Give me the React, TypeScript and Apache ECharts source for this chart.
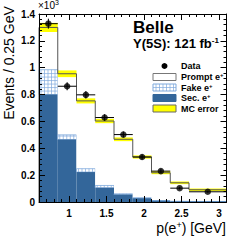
import React, { useEffect, useRef } from "react";
import * as echarts from "echarts";

const binEdges = [0.6, 0.85, 1.1, 1.35, 1.6, 1.85, 2.1, 2.35, 2.6, 3.1];
const secE = [0.8, 0.465, 0.223, 0.106, 0.055, 0.028, 0.009, 0.004, 0.003];
const fakeE = [0.185, 0.035, 0.025, 0.017, 0.006, 0.003, 0.002, 0.001, 0.001];
const mcTotal = [1.3, 0.955, 0.753, 0.603, 0.467, 0.335, 0.218, 0.143, 0.091];
const mcErr = [0.034, 0.025, 0.019, 0.016, 0.014, 0.012, 0.011, 0.01, 0.009];
const dataX = [0.725, 0.975, 1.225, 1.475, 1.725, 1.975, 2.225, 2.475, 2.85];
const dataY = [1.328, 0.862, 0.798, 0.629, 0.502, 0.335, 0.23, 0.103, 0.076];
const dataErr = [0.037, 0.03, 0.028, 0.025, 0.022, 0.018, 0.015, 0.01, 0.007];
const xLabels = [1, 1.5, 2, 2.5, 3];
const xMinor = [0.7, 0.8, 0.9, 1.1, 1.2, 1.3, 1.4, 1.6, 1.7, 1.8, 1.9, 2.1, 2.2, 2.3, 2.4, 2.6, 2.7, 2.8, 2.9];
const legendLabels = ["Data", "Prompt e", "Fake e", "Sec. e", "MC error"];

const FONT = "Liberation Sans, Arial, Helvetica, sans-serif";
const SEC = "#33669a";
const HATCH = "#7fa9dc";

export default function App() {
  const ref = useRef<HTMLDivElement>(null);
  useEffect(() => {
    if (!ref.current) return;
    const chart = echarts.init(ref.current, undefined, { renderer: "svg" });
    const nb = binEdges.length - 1;
    const stackData = [];
    for (let i = 0; i < nb; i++) {
      stackData.push([binEdges[i], binEdges[i + 1], secE[i], fakeE[i], mcTotal[i], i > 0 ? mcTotal[i - 1] : 0, mcErr[i]]);
    }
    const dataPts = dataX.map((x, i) => [x, dataY[i], binEdges[i], binEdges[i + 1], dataErr[i]]);

    const xBase = { type: "value", min: 0.6, max: 3.1, z: 10, splitLine: { show: false } };
    const yBase = { type: "value", min: 0, max: 1.4, interval: 0.2, z: 10, splitLine: { show: false } };
    const line = { show: true, lineStyle: { color: "#000", width: 1 } };

    const supTxt = (parts: string[], size: number, weight: string) => ({
      text: parts.map((p, k) => (k % 2 === 0 ? `{a|${p}}` : `{s|${p}}`)).join(""),
      rich: {
        a: { fontSize: size, fontFamily: FONT, fontWeight: weight, fill: "#000" },
        s: { fontSize: Math.round(size * 0.65), fontFamily: FONT, fontWeight: weight, fill: "#000", padding: [0, 0, Math.round(size * 0.45), 0] },
      },
    });

    const legendY = [66, 77, 87.5, 98, 108.5];
    const legendGraphics: any[] = [];
    legendGraphics.push({ type: "circle", shape: { cx: 164.5, cy: legendY[0], r: 3 }, style: { fill: "#000" } });
    legendGraphics.push({ type: "rect", shape: { x: 153, y: legendY[1] - 3.5, width: 23, height: 7 }, style: { fill: "#fff", stroke: "#777", lineWidth: 1 } });
    legendGraphics.push({ type: "rect", shape: { x: 153, y: legendY[2] - 3.5, width: 23, height: 7 }, style: { fill: "#fff", stroke: HATCH, lineWidth: 1 } });
    for (let k = 0; k < 6; k++) {
      legendGraphics.push({ type: "line", shape: { x1: 156 + k * 3.5, y1: legendY[2] - 3.5, x2: 156 + k * 3.5, y2: legendY[2] + 3.5 }, style: { stroke: HATCH, lineWidth: 0.7 } });
    }
    legendGraphics.push({ type: "line", shape: { x1: 153, y1: legendY[2], x2: 176, y2: legendY[2] }, style: { stroke: HATCH, lineWidth: 0.7 } });
    legendGraphics.push({ type: "rect", shape: { x: 153, y: legendY[3] - 3.5, width: 23, height: 7 }, style: { fill: SEC, stroke: SEC, lineWidth: 1 } });
    legendGraphics.push({ type: "rect", shape: { x: 153, y: legendY[4] - 3.5, width: 23, height: 7 }, style: { fill: "#ffff00", stroke: "#666", lineWidth: 1 } });
    legendLabels.forEach((lab, k) => {
      const parts = k >= 1 && k <= 3 ? [lab, "+"] : [lab];
      legendGraphics.push({
        type: "text",
        x: 181,
        y: legendY[k],
        style: { ...supTxt(parts, 9, "bold"), align: "left", verticalAlign: "middle" },
      });
    });

    chart.setOption({
      animation: false,
      backgroundColor: "#fff",
      grid: { left: 39, top: 14, width: 187.5, height: 188, containLabel: false },
      xAxis: [
        {
          ...xBase,
          position: "bottom",
          axisLine: line,
          axisTick: { show: true, inside: true, length: 6, customValues: xLabels, lineStyle: { color: "#000" } },
          axisLabel: { customValues: xLabels, formatter: (v: number) => String(v), fontSize: 10, fontWeight: "bold", fontFamily: FONT, color: "#000", margin: 6 },
        },
        {
          ...xBase,
          position: "bottom",
          axisLine: { show: false },
          axisTick: { show: true, inside: true, length: 3, customValues: xMinor, lineStyle: { color: "#000" } },
          axisLabel: { show: false },
        },
        {
          ...xBase,
          position: "top",
          axisLine: line,
          axisTick: { show: true, inside: true, length: 6, customValues: xLabels, lineStyle: { color: "#000" } },
          axisLabel: { show: false },
        },
        {
          ...xBase,
          position: "top",
          axisLine: { show: false },
          axisTick: { show: true, inside: true, length: 3, customValues: xMinor, lineStyle: { color: "#000" } },
          axisLabel: { show: false },
        },
      ],
      yAxis: [
        {
          ...yBase,
          position: "left",
          axisLine: line,
          axisTick: { show: true, inside: true, length: 6, lineStyle: { color: "#000" } },
          minorTick: { show: true, splitNumber: 5, length: 3, lineStyle: { color: "#000" } },
          axisLabel: { fontSize: 10, fontWeight: "bold", fontFamily: FONT, color: "#000", margin: 4 },
        },
        {
          ...yBase,
          position: "right",
          axisLine: line,
          axisTick: { show: true, inside: true, length: 6, lineStyle: { color: "#000" } },
          minorTick: { show: true, splitNumber: 5, length: 3, lineStyle: { color: "#000" } },
          axisLabel: { show: false },
        },
      ],
      series: [
        {
          type: "custom",
          name: "stack",
          xAxisIndex: 0,
          yAxisIndex: 0,
          data: stackData,
          renderItem: (params: any, api: any) => {
            const x0 = api.value(0), x1 = api.value(1), s = api.value(2), f = api.value(3), t = api.value(4);
            const X0 = api.coord([x0, 0])[0];
            const X1 = api.coord([x1, 0])[0];
            const Y0 = api.coord([x0, 0])[1];
            const Ys = api.coord([x0, s])[1];
            const Yf = api.coord([x0, s + f])[1];
            const Yt = api.coord([x0, t])[1];
            const children: any[] = [];
            children.push({ type: "rect", shape: { x: X0, y: Yt, width: X1 - X0, height: Yf - Yt }, style: { fill: "#fff" } });
            children.push({ type: "rect", shape: { x: X0, y: Yf, width: X1 - X0, height: Ys - Yf }, style: { fill: "#fff", stroke: HATCH, lineWidth: 0.8 } });
            for (let x = X0 + 2; x < X1 - 0.5; x += 3.5) {
              children.push({ type: "line", shape: { x1: x, y1: Yf, x2: x, y2: Ys }, style: { stroke: HATCH, lineWidth: 0.7 } });
            }
            for (let y = Ys - 3.5; y > Yf + 0.5; y -= 3.5) {
              children.push({ type: "line", shape: { x1: X0, y1: y, x2: X1, y2: y }, style: { stroke: HATCH, lineWidth: 0.7 } });
            }
            children.push({ type: "rect", shape: { x: X0, y: Ys, width: X1 - X0, height: Y0 - Ys }, style: { fill: SEC } });
            return { type: "group", children };
          },
        },
        {
          type: "custom",
          name: "mc",
          xAxisIndex: 0,
          yAxisIndex: 0,
          data: stackData,
          renderItem: (params: any, api: any) => {
            const x0 = api.value(0), x1 = api.value(1), t = api.value(4), tp = api.value(5), e = api.value(6);
            const X0 = api.coord([x0, 0])[0];
            const X1 = api.coord([x1, 0])[0];
            const Yhi = api.coord([x0, t + e])[1];
            const Ylo = api.coord([x0, t - e])[1];
            const Yt = api.coord([x0, t])[1];
            const Yp = api.coord([x0, tp])[1];
            return {
              type: "group",
              children: [
                { type: "rect", shape: { x: X0, y: Yhi, width: X1 - X0, height: Ylo - Yhi }, style: { fill: "#ffff00" } },
                { type: "polyline", shape: { points: [[X0, Yp], [X0, Yt], [X1, Yt]] }, style: { stroke: "#555", lineWidth: 1, fill: null } },
              ],
            };
          },
        },
        {
          type: "custom",
          name: "errors",
          xAxisIndex: 0,
          yAxisIndex: 0,
          data: dataPts,
          renderItem: (params: any, api: any) => {
            const x = api.value(0), y = api.value(1), a = api.value(2), b = api.value(3), e = api.value(4);
            const P = api.coord([x, y]);
            const A = api.coord([a, y]);
            const B = api.coord([b, y]);
            const H = api.coord([x, y + e]);
            const L = api.coord([x, y - e]);
            return {
              type: "group",
              children: [
                { type: "line", shape: { x1: A[0], y1: P[1], x2: B[0], y2: P[1] }, style: { stroke: "#000", lineWidth: 1 } },
                { type: "line", shape: { x1: P[0], y1: H[1], x2: P[0], y2: L[1] }, style: { stroke: "#000", lineWidth: 1 } },
              ],
            };
          },
        },
        {
          type: "scatter",
          name: "Data",
          xAxisIndex: 0,
          yAxisIndex: 0,
          data: dataX.map((x, i) => [x, dataY[i]]),
          symbol: "circle",
          symbolSize: 6.5,
          itemStyle: { color: "#000" },
        },
      ],
      graphic: [
        { type: "text", x: 38, y: 5, style: { ...supTxt(["\u00d710", "3"], 10, "normal"), align: "left", verticalAlign: "middle" } },
        { type: "text", x: 133, y: 27.5, style: { text: "Belle", font: `bold 17px ${FONT}`, fill: "#000", align: "left", verticalAlign: "middle" } },
        { type: "text", x: 133, y: 43.5, style: { ...supTxt(["\u03a5(5S): 121 fb", "-1"], 13, "bold"), align: "left", verticalAlign: "middle" } },
        { type: "text", x: 9, y: 63, rotation: Math.PI / 2, style: { text: "Events / 0.25 GeV", font: `14px ${FONT}`, fill: "#000", align: "center", verticalAlign: "middle" } },
        { type: "text", x: 226, y: 228, style: { ...supTxt(["p(e", "+", ") [GeV]"], 14, "normal"), align: "right", verticalAlign: "middle" } },
        ...legendGraphics,
      ],
    });
    return () => chart.dispose();
  }, []);
  return <div ref={ref} style={{ position: "fixed", left: 0, top: 0, width: 249, height: 242 }} />;
}
